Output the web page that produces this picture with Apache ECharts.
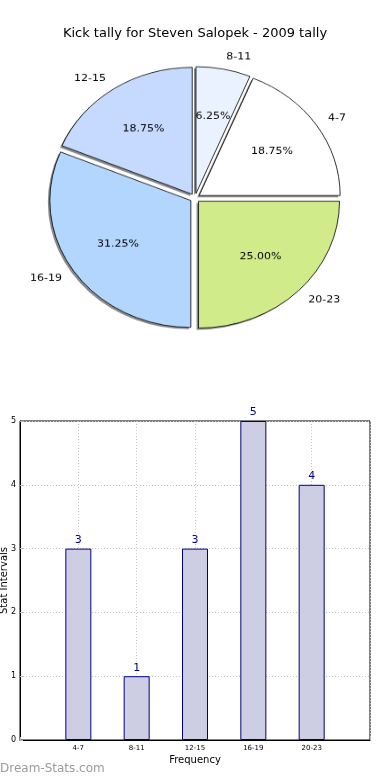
<!DOCTYPE html>
<html>
<head>
<meta charset="utf-8">
<script src="https://cdn.jsdelivr.net/npm/echarts@6/dist/echarts.min.js"></script>
<style>
html,body{margin:0;padding:0;background:#fff;}
#main{position:absolute;left:0;top:0;width:390px;height:780px;}
#pie{position:absolute;left:0;top:0;width:390px;height:400px;transform:scaleY(0.9);transform-origin:195px 198px;}
</style>
</head>
<body>
<div id="main"></div>
<div id="pie"></div>
<script>
const titleText = 'Kick tally for Steven Salopek - 2009 tally';
const categories = ['4-7', '8-11', '12-15', '16-19', '20-23'];
const values = [3, 1, 3, 5, 4];
const sliceColors = ['#ffffff', '#eaf2ff', '#c6d9ff', '#b3d6ff', '#d0eb8a'];
const yTicks = [0, 1, 2, 3, 4, 5];
const xName = 'Frequency';
const yName = 'Stat Intervals';
const watermark = 'Dream-Stats.com';

const FONT = 'DejaVu Sans';
const total = values.reduce((a, b) => a + b, 0);

// ---------- Main chart (title + bars) ----------
const main = echarts.init(document.getElementById('main'), null, {renderer: 'canvas'});
const xData = [''].concat(categories, ['']);
const barData = [null].concat(values, [null]);
main.setOption({
  animation: false,
  backgroundColor: '#fff',
  title: {
    text: titleText, left: 'center', top: 22,
    textStyle: {fontFamily: FONT, fontSize: 13, fontWeight: 'normal', color: '#000'}
  },
  grid: {left: 20, right: 20, top: 421, height: 319, containLabel: false, outerBoundsMode: 'none',
    show: true, borderColor: '#000', borderWidth: 1, backgroundColor: 'transparent'},
  xAxis: {
    type: 'category', data: xData, boundaryGap: false,
    name: xName, nameLocation: 'middle', nameGap: 15, nameMoveOverlap: false,
    nameTextStyle: {fontFamily: FONT, fontSize: 10, color: '#000'},
    axisLine: {show: true, lineStyle: {color: '#000'}},
    axisTick: {show: true, inside: true, length: 3, lineStyle: {color: '#bbb'}},
    axisLabel: {fontFamily: FONT, fontSize: 7, color: '#000', margin: 5, interval: 0},
    splitLine: {show: true, lineStyle: {color: '#c4c4c4', type: [1, 2], width: 1}}
  },
  yAxis: {
    type: 'value', min: 0, max: 5, interval: 1,
    name: yName, nameLocation: 'middle', nameGap: 11, nameMoveOverlap: false,
    nameTextStyle: {fontFamily: FONT, fontSize: 10, color: '#000'},
    axisLine: {show: true, lineStyle: {color: '#000'}},
    axisTick: {show: true, inside: true, length: 3, lineStyle: {color: '#bbb'}},
    axisLabel: {fontFamily: FONT, fontSize: 8, color: '#000', margin: 4, formatter: v => yTicks.includes(v) ? String(v) : ''},
    splitLine: {show: true, lineStyle: {color: '#c4c4c4', type: [1, 2], width: 1}}
  },
  series: [{
    type: 'bar', data: barData, barWidth: 26,
    itemStyle: {color: '#cdcde4', borderColor: '#000080', borderWidth: 1},
    label: {show: true, position: 'top', distance: 3, color: '#00008b', fontFamily: FONT, fontSize: 11},
    emphasis: {disabled: true}
  }],
  graphic: [{
    type: 'text', left: 0, top: 763,
    style: {text: watermark, fill: '#9a9a9a', font: '12px "DejaVu Sans"'}
  }]
});

// ---------- Pie chart ----------
const pie = echarts.init(document.getElementById('pie'), null, {renderer: 'canvas'});
const pieData = categories.map((c, i) => ({
  name: c, value: values[i], selected: true,
  itemStyle: {color: sliceColors[i]}
}));
const shadowData = categories.map((c, i) => ({name: c, value: values[i], selected: true}));
const pctData = categories.map((c, i) => ({name: c, value: values[i], selected: true}));
const R = 141;
const common = {startAngle: 0, clockwise: false, selectedMode: 'multiple', selectedOffset: 5,
  avoidLabelOverlap: false, emphasis: {disabled: true}};
pie.setOption({
  animation: false,
  series: [Object.assign({
    type: 'pie', center: [193, 200], radius: [0, R], silent: true, z: 1,
    data: shadowData,
    itemStyle: {color: '#8a8a8a', borderWidth: 0},
    select: {itemStyle: {color: '#8a8a8a', borderWidth: 0}},
    label: {show: false}, labelLine: {show: false}
  }, common), Object.assign({
    type: 'pie', center: [195, 198], radius: [0, R], z: 2,
    data: pieData,
    itemStyle: {borderColor: '#000', borderWidth: 0.8},
    select: {itemStyle: {borderColor: '#000', borderWidth: 0.8}},
    label: {show: true, position: 'outside', formatter: '{b}', fontFamily: FONT, fontSize: 11, color: '#000', distanceToLabelLine: 0},
    labelLine: {show: false, length: R * 0.1, length2: 0}
  }, common), Object.assign({
    type: 'pie', center: [195, 198], radius: [0, R * 1.2], silent: true, z: 3,
    data: pctData,
    itemStyle: {color: 'rgba(0,0,0,0)', borderWidth: 0},
    select: {itemStyle: {color: 'rgba(0,0,0,0)', borderWidth: 0}},
    label: {show: true, position: 'inside', fontFamily: FONT, fontSize: 11, color: '#000',
      formatter: p => (p.value / total * 100).toFixed(2) + '%'},
    labelLine: {show: false}
  }, common)]
});
</script>
</body>
</html>
